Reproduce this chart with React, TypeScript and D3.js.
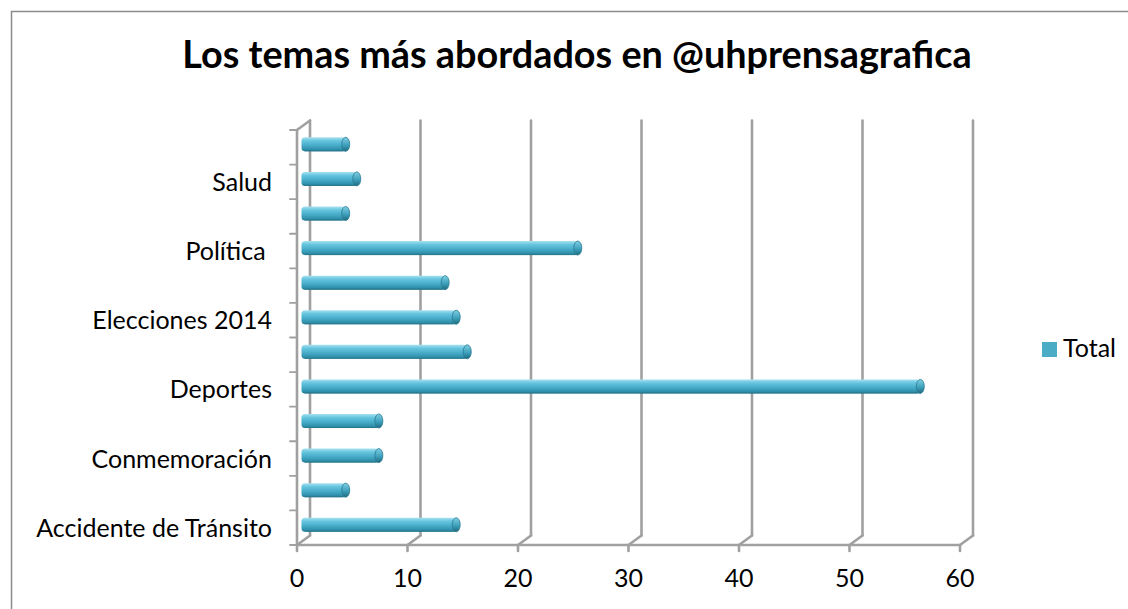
import * as d3 from "d3"

// categories from bottom to top; only every second one is labelled in the chart
const categories = [
    "Accidente de Tránsito", "", "Conmemoración", "", "Deportes", "",
    "Elecciones 2014", "", "Política ", "", "Salud", ""
]
const totals = [14, 4, 7, 7, 56, 15, 14, 13, 25, 4, 5, 4]
const xTicks = [0, 10, 20, 30, 40, 50, 60]
const title = "Los temas más abordados en @uhprensagrafica"
const seriesName = "Total"

const W = 1128
const H = 609
const FONT = "Lato, Calibri, 'Open Sans', sans-serif"

export default function App() {
    const idx = categories.map((_, i) => i)
    // front plane of the 3D box
    const x = d3.scaleLinear().domain([0, 60]).range([297, 960])
    const y = d3.scaleBand<number>().domain(idx).range([545, 130])
    const depth = { dx: 13, dy: -9.5 }
    const barShift = { dx: 4.5, dy: -3 }
    const barH = 14
    const capRx = 4

    const floorY = 545
    const topY = 130

    return (
        <svg width={W} height={H} style={{ position: "absolute", left: 0, top: 0, background: "#fff" }}>
            <defs>
                <linearGradient id="bar-grad" x1="0" y1="0" x2="0" y2="1">
                    <stop offset="0%" stopColor="#a9e2f0" />
                    <stop offset="25%" stopColor="#66c5de" />
                    <stop offset="55%" stopColor="#4aaecb" />
                    <stop offset="85%" stopColor="#3192ad" />
                    <stop offset="100%" stopColor="#26788f" />
                </linearGradient>
                <linearGradient id="cap-grad" x1="0" y1="0" x2="0" y2="1">
                    <stop offset="0%" stopColor="#7fcfe4" />
                    <stop offset="60%" stopColor="#3a9cb8" />
                    <stop offset="100%" stopColor="#22697d" />
                </linearGradient>
            </defs>

            <rect x={11.5} y={11.5} width={W + 20} height={H + 20} fill="none" stroke="#8c8c8c" strokeWidth={1.5} />

            <text x={577} y={68} textAnchor="middle" fontFamily={FONT} fontWeight="bold" fontSize={37.8} fill="#000">
                {title}
            </text>

            {/* back wall gridlines */}
            {xTicks.map(t => (
                <g key={"g" + t} stroke="#a0a0a0" strokeWidth={2.6} fill="none" strokeLinecap="round">
                    <line x1={x(t) + depth.dx} x2={x(t) + depth.dx} y1={floorY + depth.dy} y2={topY + depth.dy} />
                    <line x1={x(t)} y1={floorY} x2={x(t) + depth.dx} y2={floorY + depth.dy} />
                    <line x1={x(t)} x2={x(t)} y1={floorY} y2={floorY + 6} />
                </g>
            ))}
            {/* floor front edge and left wall */}
            <g stroke="#a0a0a0" strokeWidth={2.6} fill="none" strokeLinecap="round">
                <line x1={x(0)} x2={x(60)} y1={floorY} y2={floorY} />
                <line x1={x(0)} x2={x(0)} y1={floorY} y2={topY} />
                <line x1={x(0)} y1={topY} x2={x(0) + depth.dx} y2={topY + depth.dy} />
                {d3.range(categories.length + 1).map(i => {
                    const yy = floorY - i * y.step()
                    return <line key={"t" + i} x1={x(0) - 7} x2={x(0)} y1={yy} y2={yy} strokeWidth={1.8} />
                })}
            </g>

            {/* cylinder bars */}
            {idx.map(i => {
                const cy = (y(i) as number) + y.bandwidth() / 2 + barShift.dy
                const x0 = x(0) + barShift.dx
                const x1 = x(totals[i]) + barShift.dx
                return (
                    <g key={"b" + i}>
                        <rect x={x0} y={cy - barH / 2} width={x1 - x0} height={barH} rx={3.5} fill="url(#bar-grad)" />
                        <ellipse cx={x1} cy={cy} rx={capRx} ry={barH / 2} fill="url(#cap-grad)" stroke="#2a7a90" strokeWidth={0.8} />
                        <line x1={x0 + 3} x2={x1} y1={cy + barH / 2 - 0.4} y2={cy + barH / 2 - 0.4} stroke="#2a7a90" strokeWidth={0.8} />
                    </g>
                )
            })}

            {/* category labels */}
            {idx.filter(i => categories[i] !== "").map(i => (
                <text key={"c" + i} x={272} y={(y(i) as number) + y.bandwidth() / 2 + 9}
                    textAnchor="end" fontFamily={FONT} fontSize={25} fill="#000" style={{ whiteSpace: "pre" }}>
                    {categories[i]}
                </text>
            ))}

            {/* value axis labels */}
            {xTicks.map(t => (
                <text key={"x" + t} x={x(t)} y={587} textAnchor="middle" fontFamily={FONT} fontSize={25} fill="#000">
                    {t}
                </text>
            ))}

            {/* legend */}
            <rect x={1042} y={342} width={15} height={15} fill="#4bacc6" />
            <text x={1063} y={357} fontFamily={FONT} fontSize={25} fill="#000">{seriesName}</text>
        </svg>
    )
}
